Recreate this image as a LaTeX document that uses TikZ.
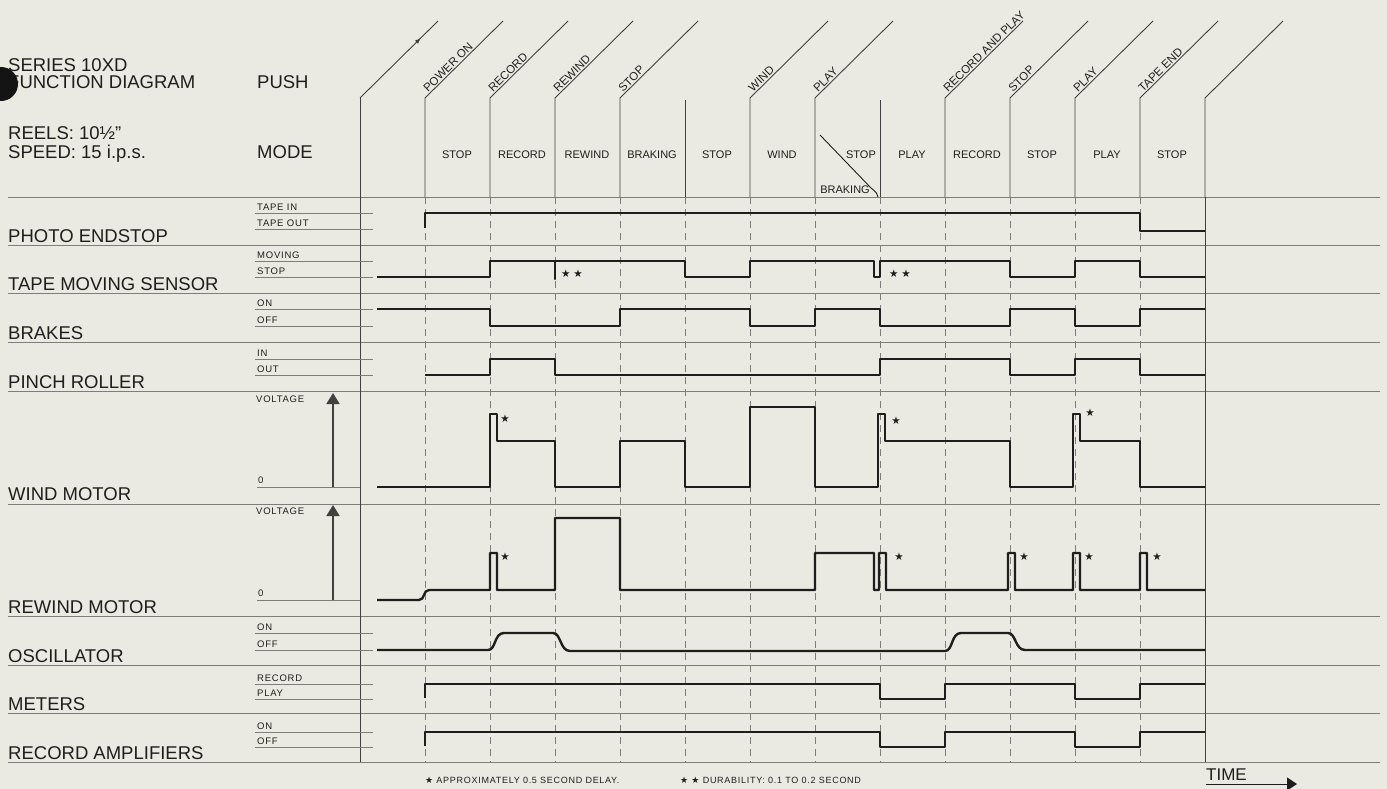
\documentclass[tikz,border=0pt]{standalone}
\usepackage{fontspec}
\setmainfont{Liberation Sans}
\newfontfamily\widefont[LetterSpace=8]{Liberation Sans}
\newfontfamily\symfont{DejaVu Sans}
\usepackage{tikz}
\usetikzlibrary{arrows.meta, decorations.markings}
\definecolor{paper}{RGB}{234,233,226}
\definecolor{ink}{RGB}{30,30,30}
\definecolor{rule}{RGB}{125,125,122}
\newcommand{\fstar}{{\symfont\char"2605}}

\begin{document}
\begin{tikzpicture}[x=1pt, y=-1pt,
  rowline/.style={rule, line width=0.9pt},
  colline/.style={ink!85, line width=0.9pt},
  dashline/.style={rule, line width=0.7pt, dash pattern=on 7pt off 5pt},
  lvlline/.style={rule, line width=0.7pt},
  sigline/.style={ink, line width=2.4pt, line join=round},
  bigtxt/.style={ink, anchor=base west, inner sep=0pt, font=\fontsize{18.5}{20}\selectfont},
  lvltxt/.style={ink, anchor=base west, inner sep=0pt, font=\widefont\fontsize{9.5}{10}\selectfont},
  modetxt/.style={ink, inner sep=0pt, font=\fontsize{11}{12}\selectfont},
  pushtxt/.style={ink, sloped, anchor=south west, inner sep=1.5pt, font=\fontsize{11.5}{12}\selectfont},
  notetxt/.style={ink, anchor=base west, inner sep=0pt, font=\widefont\fontsize{9}{10}\selectfont},
  startxt/.style={ink, anchor=center, inner sep=0pt, font=\fontsize{10.5}{11}\selectfont}]

  \fill[paper] (0,0) rectangle (1387,789);
  \useasboundingbox (0,0) rectangle (1387,789);

  \node[bigtxt] (series) at (8,72) {SERIES 10XD};
  \node[bigtxt] (function) at (8,89) {FUNCTION DIAGRAM};
  \fill[black!92] (1,84) circle (17pt);
  \node[bigtxt] (reels) at (8,140) {REELS: 10½"};
  \node[bigtxt] (speed) at (8,158) {SPEED: 15 i.p.s.};
  \node[bigtxt] (push) at (257,89) {PUSH};
  \node[bigtxt] (mode) at (257,158) {MODE};

  \foreach \y in {197,245,293,342,391,504,616,665,713,762}
    \draw[rowline] (8,\y) -- (1380,\y);
  \foreach \y/\t [count=\i] in {242/PHOTO ENDSTOP, 290/TAPE MOVING SENSOR, 339/BRAKES,
      388/PINCH ROLLER, 500/WIND MOTOR, 613/REWIND MOTOR, 662/OSCILLATOR, 710/METERS,
      759/RECORD AMPLIFIERS}
    \node[bigtxt] (row\i) at (8,\y) {\t};

  \foreach \x in {425,490,...,1140}
    \draw[dashline] (\x,197) -- (\x,762);
  \foreach \x in {425,490,555,620,750,815,945,1010,1075,1140,1205}
    \draw[colline] (\x,197) -- (\x,98) -- ++(78,-77);
  \draw[colline] (685,197) -- (685,100);
  \draw[colline] (880,197) -- (880,100);
  \draw[colline] (360,762) -- (360,98);
  \draw[colline] (1205,762) -- (1205,197);
  \draw[colline, decoration={markings, mark=at position 0.78 with {\arrow{Latex[length=6pt,width=4.5pt]}}},
    postaction=decorate] (360,98) -- ++(78,-77);

  \foreach \x/\t [count=\i] in {425/POWER ON, 490/RECORD, 555/REWIND, 620/STOP, 750/WIND,
      815/PLAY, 945/RECORD AND PLAY, 1010/STOP, 1075/PLAY, 1140/TAPE END}
    \path (\x,98) -- ++(78,-77) node[pushtxt, pos=0.04] (key\i) {\t};

  \foreach \x/\t [count=\i] in {457/STOP, 522/RECORD, 587/REWIND, 652/BRAKING, 717/STOP,
      782/WIND, 912/PLAY, 977/RECORD, 1042/STOP, 1107/PLAY, 1172/STOP}
    \node[modetxt] (state\i) at (\x,155) {\t};
  \node[modetxt] (statestop) at (861,155) {STOP};
  \node[modetxt] (statebrake) at (845,190) {BRAKING};
  \draw[ink, line width=0.9pt] (820,135) -- (871,188) .. controls (876,192) and (878,194) .. (878,197);

  \foreach \y/\t [count=\i] in {213/TAPE IN, 229/TAPE OUT, 261/MOVING, 277/STOP, 309/ON, 326/OFF,
      359/IN, 375/OUT, 633/ON, 650/OFF, 684/RECORD, 699/PLAY, 732/ON, 747/OFF} {
    \draw[lvlline] (255,\y) -- (373,\y);
    \node[lvltxt] (level\i) at (257,\y-2.5) {\t};
  }

  \foreach \b/\t/\n in {487/393/wind, 600/505/rew} {
    \draw[lvlline] (257,\b) -- (360,\b);
    \node[lvltxt] (zero\n) at (258,\b-4) {0};
    \node[lvltxt] (volt\n) at (256,\t+9) {VOLTAGE};
    \draw[ink!85, line width=1.8pt, -{Triangle[width=13pt,length=11pt]}] (333,\b) -- (333,\t);
  }

  \draw[sigline] (425,228) -- (425,213) -- (1140,213) -- (1140,231) -- (1205,231);

  \draw[sigline] (377,277) -- (490,277) -- (490,261) -- (555,261) -- (555,279) -- (555,261)
    -- (685,261) -- (685,277) -- (750,277) -- (750,261) -- (874,261) -- (874,277) -- (880,277)
    -- (880,261) -- (1010,261) -- (1010,277) -- (1075,277) -- (1075,261) -- (1140,261)
    -- (1140,277) -- (1205,277);
  \node[startxt] (twostar1) at (572,274) {\fstar\ \fstar};
  \node[startxt] (twostar2) at (900,274) {\fstar\ \fstar};

  \draw[sigline] (377,309) -- (490,309) -- (490,326) -- (620,326) -- (620,309) -- (750,309)
    -- (750,326) -- (815,326) -- (815,309) -- (880,309) -- (880,326) -- (1010,326) -- (1010,309)
    -- (1075,309) -- (1075,326) -- (1140,326) -- (1140,309) -- (1205,309);

  \draw[sigline] (425,375) -- (490,375) -- (490,359) -- (555,359) -- (555,375) -- (880,375)
    -- (880,359) -- (1010,359) -- (1010,375) -- (1075,375) -- (1075,359) -- (1140,359)
    -- (1140,375) -- (1205,375);

  \draw[sigline] (377,487) -- (490,487) -- (490,414) -- (497,414) -- (497,441) -- (555,441)
    -- (555,487) -- (620,487) -- (620,441) -- (685,441) -- (685,487) -- (750,487) -- (750,407)
    -- (815,407) -- (815,487) -- (878,487) -- (878,414) -- (885,414) -- (885,441) -- (1010,441)
    -- (1010,487) -- (1073,487) -- (1073,414) -- (1080,414) -- (1080,441) -- (1140,441)
    -- (1140,487) -- (1205,487);
  \foreach \x/\y [count=\i] in {505/419, 896/421, 1090/413}
    \node[startxt] (windstar\i) at (\x,\y) {\fstar};

  \draw[sigline] (377,600) -- (419,600) .. controls (425,600) and (423,590) .. (429,590)
    -- (490,590) -- (490,553) -- (497,553) -- (497,590) -- (555,590) -- (555,518) -- (620,518)
    -- (620,590) -- (815,590) -- (815,553) -- (874,553) -- (874,590) -- (879,590) -- (879,553)
    -- (886,553) -- (886,590) -- (1008,590) -- (1008,553) -- (1015,553) -- (1015,590)
    -- (1073,590) -- (1073,553) -- (1080,553) -- (1080,590) -- (1140,590) -- (1140,553)
    -- (1147,553) -- (1147,590) -- (1205,590);
  \foreach \x [count=\i] in {505, 899, 1024, 1089, 1157}
    \node[startxt] (rewstar\i) at (\x,557) {\fstar};

  \draw[sigline] (377,650) -- (488,650) .. controls (496,650) and (494,633) .. (504,633)
    -- (553,633) .. controls (561,633) and (560,651) .. (570,651) -- (945,651)
    .. controls (953,651) and (951,633) .. (961,633) -- (1008,633)
    .. controls (1016,633) and (1015,650) .. (1025,650) -- (1205,650);

  \draw[sigline] (425,698) -- (425,684) -- (880,684) -- (880,699) -- (945,699) -- (945,684)
    -- (1075,684) -- (1075,699) -- (1140,699) -- (1140,684) -- (1205,684);

  \draw[sigline] (425,746) -- (425,732) -- (880,732) -- (880,747) -- (945,747) -- (945,732)
    -- (1075,732) -- (1075,747) -- (1140,747) -- (1140,732) -- (1205,732);

  \node[notetxt] (note1) at (425,783) {\fstar\ APPROXIMATELY 0.5 SECOND DELAY.};
  \node[notetxt] (note2) at (680,783) {\fstar\ \fstar\ DURABILITY: 0.1 TO 0.2 SECOND};
  \node[ink, anchor=base west, inner sep=0pt, font=\fontsize{17}{18}\selectfont] (time) at (1206,780) {TIME};
  \draw[ink, line width=0.9pt, -{Triangle[width=13pt,length=10pt]}] (1206,784) -- (1297,784);
\end{tikzpicture}
\end{document}
